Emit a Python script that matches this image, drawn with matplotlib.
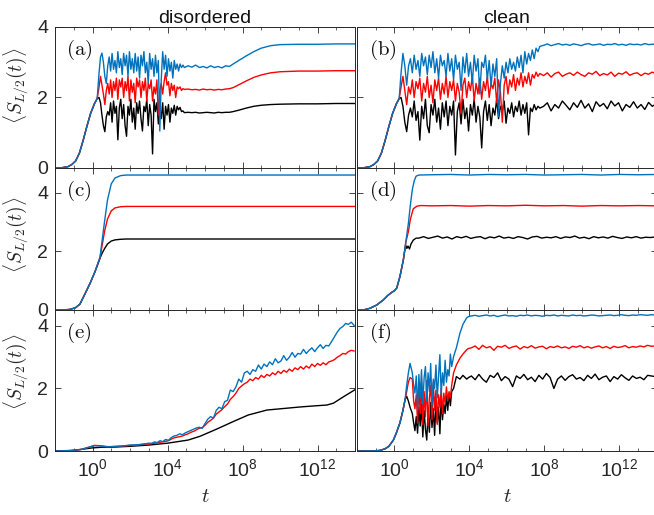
import numpy as np
import matplotlib
matplotlib.use("Agg")
import matplotlib.pyplot as plt
from matplotlib.ticker import FixedLocator, NullFormatter, FixedFormatter

plt.rcParams['font.family'] = ['Liberation Sans', 'DejaVu Sans']
plt.rcParams['mathtext.fontset'] = 'cm'

# ---------------- data: log10(t) and <S_{L/2}(t)> ----------------
col_titles = ["disordered", "clean"]
panel_tags = ["(a)", "(b)", "(c)", "(d)", "(e)", "(f)"]
xtick_exps = [0, 4, 8, 12]
ytick_vals = [0, 2, 4]

# top row shared early growth
top_rise_logt = [-2.0, -1.6, -1.3, -1.1, -0.9, -0.7, -0.5, -0.3, -0.1, 0.1, 0.25]
top_rise = [0.0, 0.01, 0.04, 0.1, 0.2, 0.42, 0.78, 1.18, 1.55, 1.82, 1.97]

# (a) disordered, top
a_noise_span = [0.35, 4.9]
a_black_noise = [2.0, 1.85, 1.5, 1.2, 1.03, 1.45, 1.6, 1.5, 1.85, 1.3, 1.9, 1.55, 1.75, 0.8, 1.7,
                 1.95, 1.4, 1.8, 1.2, 0.9, 1.75, 1.5, 1.95, 1.3, 1.7, 1.1, 1.85, 1.55, 1.9, 1.4,
                 1.05, 1.75, 1.6, 1.95, 1.2, 1.8, 1.5, 0.4, 1.95, 1.6, 1.85, 1.25, 1.7, 1.4, 1.85,
                 1.1, 1.75, 1.5, 1.8, 1.3, 1.7, 1.55, 1.78, 1.5, 1.75, 1.65, 1.72, 1.6, 1.62, 1.57]
a_red_noise = [2.3, 2.6, 2.35, 2.1, 1.8, 2.2, 2.4, 2.1, 2.5, 2.0, 2.45, 2.2, 2.55, 1.95, 2.5,
               2.3, 2.55, 2.0, 2.45, 2.2, 2.6, 1.9, 2.5, 2.15, 2.4, 1.85, 2.55, 2.3, 2.5, 2.0,
               2.45, 2.2, 2.55, 1.9, 2.4, 2.25, 2.5, 1.9, 2.3, 2.1, 2.5, 1.5, 2.2, 2.4, 2.1,
               2.45, 2.7, 2.35, 2.45, 2.05, 2.4, 2.2, 2.35, 2.0, 2.3, 2.25, 2.3, 2.2, 2.25, 2.23]
a_blue_noise = [2.7, 3.15, 3.26, 3.0, 2.6, 2.4, 2.9, 3.15, 2.75, 3.25, 2.8, 3.05, 2.7, 3.3, 2.85,
                3.1, 2.65, 3.25, 2.9, 3.2, 2.6, 3.3, 2.8, 3.1, 2.7, 3.25, 2.75, 3.15, 2.55, 3.2,
                2.9, 3.3, 2.7, 3.0, 2.4, 3.25, 2.8, 3.1, 2.6, 3.2, 2.7, 3.05, 1.05, 2.5, 3.3,
                2.8, 3.2, 2.6, 3.1, 2.75, 3.0, 2.55, 3.05, 2.8, 2.95, 2.75, 2.95, 2.85, 2.92, 2.85]
a_tail_logt = [5.1, 5.3, 5.5, 5.7, 5.9, 6.1, 6.3, 6.5, 6.7, 6.9, 7.1, 7.3, 7.5, 7.8, 8.2, 8.6,
               9.0, 9.5, 10.0, 11.0, 12.0, 13.0, 14.0]
a_black_tail = [1.58, 1.57, 1.58, 1.56, 1.57, 1.58, 1.57, 1.56, 1.58, 1.57, 1.58, 1.58, 1.6, 1.64,
                1.7, 1.75, 1.78, 1.8, 1.81, 1.82, 1.82, 1.83, 1.83]
a_red_tail = [2.24, 2.22, 2.23, 2.21, 2.24, 2.22, 2.23, 2.21, 2.23, 2.22, 2.24, 2.25, 2.28, 2.36,
              2.47, 2.57, 2.64, 2.7, 2.73, 2.75, 2.75, 2.76, 2.76]
a_blue_tail = [2.9, 2.86, 2.92, 2.85, 2.88, 2.84, 2.9, 2.85, 2.88, 2.84, 2.9, 2.88, 2.95, 3.05,
               3.18, 3.3, 3.4, 3.47, 3.5, 3.51, 3.51, 3.52, 3.52]

# (b) clean, top
b_noise_span = [0.35, 7.75]
b_black_noise = [2.0, 1.75, 1.3, 1.03, 1.5, 1.7, 1.45, 1.9, 1.35, 1.6, 0.79, 1.75, 1.4, 1.95, 1.2,
                 1.0, 1.8, 1.5, 1.95, 1.3, 1.7, 1.1, 1.85, 1.45, 1.9, 1.2, 1.75, 1.5, 1.9, 0.37,
                 1.6, 1.85, 1.25, 1.95, 1.4, 1.7, 1.05, 1.8, 1.5, 1.95, 1.3, 1.75, 1.45, 0.57, 1.6,
                 1.9, 1.35, 1.8, 1.2, 1.7, 1.5, 1.95, 1.4, 1.75, 1.6, 1.9, 1.27, 1.7, 1.55, 1.85,
                 1.45, 1.75, 1.6, 1.9, 1.5, 1.8, 1.55, 1.85, 0.94, 1.7, 1.6, 1.8, 1.65, 1.75, 1.7]
b_red_noise = [2.3, 2.6, 2.2, 1.8, 2.3, 2.1, 2.5, 2.0, 2.45, 2.25, 2.55, 1.9, 2.4, 2.15, 2.6,
               2.0, 2.35, 1.85, 2.5, 2.2, 2.55, 1.95, 2.4, 2.1, 2.6, 2.0, 2.45, 2.2, 2.5, 1.9,
               2.4, 2.15, 1.55, 2.35, 2.55, 2.0, 2.45, 2.2, 2.6, 1.9, 2.4, 2.1, 2.55, 1.95, 2.45,
               2.2, 2.6, 2.0, 2.4, 2.25, 2.55, 1.85, 2.5, 2.15, 1.3, 2.35, 2.6, 2.1, 2.5, 2.3,
               2.65, 2.2, 2.55, 2.35, 2.7, 2.3, 2.6, 2.4, 2.7, 2.35, 2.65, 2.55, 2.72, 2.6, 2.68]
b_blue_noise = [2.7, 3.25, 2.9, 2.35, 2.9, 3.1, 2.7, 3.2, 2.8, 3.05, 2.6, 3.25, 2.9, 3.15, 2.65,
                3.2, 2.85, 3.3, 2.7, 3.1, 2.55, 3.2, 2.9, 3.05, 2.6, 3.25, 2.75, 3.1, 2.5, 3.2,
                2.8, 3.0, 2.2, 3.15, 2.7, 3.25, 2.6, 3.0, 2.4, 3.2, 2.75, 3.1, 2.1, 3.0, 2.85,
                3.2, 2.5, 3.05, 2.3, 2.95, 2.6, 3.1, 1.46, 2.4, 2.9, 2.55, 3.0, 2.7, 3.1, 2.8,
                3.0, 2.75, 3.15, 2.85, 3.2, 2.7, 3.3, 2.95, 3.25, 3.05, 3.35, 3.1, 3.4, 3.3, 3.45]
b_tail_span = [7.95, 13.95]
b_black_tail = [1.75, 1.85, 1.62, 1.8, 1.7, 1.9, 1.78, 1.65, 1.85, 1.72, 1.92, 1.7, 1.82, 1.6,
                1.88, 1.75, 1.83, 1.68, 1.9, 1.76, 1.85, 1.62, 1.8, 1.72, 1.88, 1.7, 1.8, 1.66,
                1.86, 1.75, 1.82]
b_red_tail = [2.62, 2.7, 2.58, 2.68, 2.72, 2.6, 2.66, 2.7, 2.63, 2.72, 2.65, 2.6, 2.7, 2.66,
              2.74, 2.62, 2.68, 2.64, 2.72, 2.6, 2.69, 2.66, 2.73, 2.63, 2.68, 2.7, 2.62, 2.69,
              2.66, 2.72, 2.67]
b_blue_tail = [3.48, 3.52, 3.47, 3.5, 3.53, 3.49, 3.51, 3.48, 3.52, 3.5, 3.47, 3.51, 3.53, 3.49,
               3.5, 3.52, 3.48, 3.51, 3.5, 3.53, 3.49, 3.51, 3.48, 3.52, 3.5, 3.51, 3.49, 3.53,
               3.5, 3.51, 3.52]

# (c) disordered, middle
c_logt = [-2.0, -1.5, -1.2, -0.9, -0.67, -0.4, -0.13, 0.13, 0.4, 0.5, 0.65, 0.8, 1.0, 1.2, 1.5,
          1.8, 2.5, 14.0]
c_black = [0, 0.005, 0.02, 0.08, 0.2, 0.55, 0.91, 1.3, 1.76, 1.92, 2.1, 2.25, 2.35, 2.39, 2.41,
           2.42, 2.42, 2.42]
c_red = [0, 0.005, 0.02, 0.08, 0.2, 0.55, 0.91, 1.3, 1.78, 2.15, 2.7, 3.1, 3.38, 3.48, 3.52,
         3.53, 3.53, 3.53]
c_blue = [0, 0.005, 0.02, 0.08, 0.2, 0.55, 0.91, 1.3, 1.8, 2.3, 3.05, 3.75, 4.3, 4.5, 4.58,
          4.6, 4.6, 4.6]

# (d) clean, middle
d_rise_logt = [-2.0, -1.6, -1.3, -0.95, -0.6, -0.35, -0.15, 0.0, 0.12, 0.29, 0.47, 0.55]
d_rise = [0.0, 0.01, 0.06, 0.17, 0.34, 0.5, 0.6, 0.66, 0.75, 1.14, 1.7, 2.05]
d_black_logt = [0.6, 0.66, 0.72, 0.8, 0.88, 1.0, 1.15]
d_black_mid = [2.2, 2.1, 2.18, 2.08, 2.25, 2.38, 2.45]
d_black_plateau_span = [1.3, 13.9]
d_black_plateau = [2.45, 2.5, 2.44, 2.48, 2.52, 2.45, 2.49, 2.42, 2.5, 2.46, 2.51, 2.44, 2.48,
                   2.5, 2.43, 2.49, 2.46, 2.52, 2.45, 2.48, 2.44, 2.5, 2.47, 2.42, 2.49, 2.51,
                   2.45, 2.48, 2.46, 2.5, 2.44, 2.49, 2.47, 2.52, 2.45, 2.48, 2.43, 2.5, 2.46,
                   2.49, 2.45, 2.51, 2.47, 2.44, 2.49, 2.46, 2.5, 2.45, 2.48, 2.47, 2.49]
d_red_logt = [0.6, 0.74, 0.85, 1.0, 1.2, 1.4, 2, 3, 4, 5, 6, 7, 8, 9, 10, 11, 12, 13, 14]
d_red = [2.3, 2.67, 3.1, 3.45, 3.54, 3.56, 3.55, 3.56, 3.54, 3.56, 3.55, 3.57, 3.55, 3.56, 3.54,
         3.56, 3.55, 3.56, 3.55]
d_blue_logt = [0.6, 0.74, 0.85, 0.95, 1.05, 1.15, 1.3, 2, 3, 4, 5, 6, 7, 8, 9, 10, 11, 12, 13, 14]
d_blue = [2.3, 2.95, 3.6, 4.1, 4.4, 4.56, 4.6, 4.61, 4.62, 4.6, 4.62, 4.61, 4.62, 4.6, 4.61, 4.62,
          4.6, 4.62, 4.61, 4.62]

# (e) disordered, bottom
e_early_logt = [-2.0, -1.2, -0.6, -0.2, 0.1, 0.4, 0.8, 1.2, 1.6, 2.0, 2.4, 2.8]
e_blue_early = [0, 0.01, 0.05, 0.12, 0.17, 0.16, 0.13, 0.15, 0.16, 0.19, 0.2, 0.23]
e_red_early = [0, 0.01, 0.05, 0.12, 0.18, 0.17, 0.14, 0.14, 0.16, 0.18, 0.19, 0.22]
e_noise_span = [3.0, 13.95]
e_blue_noise = [0.25, 0.24, 0.29, 0.27, 0.33, 0.3, 0.37, 0.34, 0.43, 0.48,
                0.5, 0.55, 0.52, 0.58, 0.62, 0.66, 0.7, 0.74, 0.76, 0.72,
                0.88, 1.02, 1.1, 1.05, 1.3, 1.4, 1.35, 1.58, 1.62, 1.95,
                1.9, 2.05, 2.3, 2.2, 2.5, 2.55, 2.45, 2.6, 2.55, 2.75,
                2.62, 2.78, 2.7, 2.85, 2.76, 2.95, 2.82, 2.88, 3.05, 2.9,
                3.0, 3.15, 3.0, 3.12, 3.1, 3.25, 3.12, 3.22, 3.3, 3.18,
                3.3, 3.4, 3.28, 3.38, 3.36, 3.5, 3.65, 3.8, 3.92, 3.98,
                4.08, 4.05, 4.12, 4.02]
e_red_noise = [0.23, 0.24, 0.25, 0.26, 0.28, 0.29, 0.31, 0.33, 0.38, 0.42,
               0.44, 0.46, 0.48, 0.52, 0.55, 0.6, 0.63, 0.68, 0.73, 0.75,
               0.82, 0.92, 0.98, 1.05, 1.18, 1.25, 1.32, 1.42, 1.5, 1.65,
               1.74, 1.85, 2.0, 2.08, 2.15, 2.2, 2.3, 2.25, 2.35, 2.3,
               2.42, 2.35, 2.45, 2.4, 2.5, 2.44, 2.55, 2.48, 2.58, 2.52,
               2.62, 2.55, 2.66, 2.6, 2.7, 2.62, 2.72, 2.65, 2.78, 2.7,
               2.8, 2.74, 2.82, 2.76, 2.85, 2.88, 2.92, 3.0, 3.05, 3.12,
               3.1, 3.18, 3.22, 3.2]
e_black_logt = [-2.0, -1.0, -0.5, 0.0, 0.5, 1.0, 2.0, 3.0, 4.0, 5.1, 5.73, 6.62, 7.5, 8.3, 9.3,
                10.2, 11.1, 12.0, 12.5, 12.85, 13.4, 14.0]
e_black = [0, 0.02, 0.06, 0.1, 0.12, 0.12, 0.15, 0.19, 0.25, 0.35, 0.47, 0.7, 0.94, 1.15, 1.31,
           1.36, 1.41, 1.45, 1.47, 1.53, 1.74, 1.96]

# (f) clean, bottom
f_rise_logt = [-2.0, -1.5, -1.0, -0.77, -0.5, -0.3, -0.06, 0.1, 0.29, 0.45, 0.56]
f_rise = [0.0, 0.0, 0.005, 0.02, 0.07, 0.15, 0.35, 0.58, 0.9, 1.3, 1.63]
f_peak_logt = [0.65, 0.74, 0.83]
f_black_peak = [1.75, 1.6, 1.4]
f_red_peak = [1.9, 2.2, 2.35]
f_blue_peak = [2.1, 2.5, 2.8]
f_noise_span = [0.95, 3.05]
f_black_noise = [1.2, 0.9, 0.65, 1.1, 0.57, 1.4, 0.8, 1.5, 0.45, 1.3, 0.7, 0.35, 1.2, 0.6, 1.55,
                 0.75, 1.35, 0.5, 1.6, 0.9, 1.4, 0.55, 1.7, 1.0, 1.5, 1.2, 1.75, 1.3, 1.85, 1.45,
                 1.9]
f_red_noise = [2.3, 1.6, 1.35, 1.8, 0.9, 2.1, 1.2, 2.2, 0.85, 1.9, 1.1, 2.25, 0.8, 1.7, 2.1,
               1.0, 2.2, 1.3, 1.95, 0.85, 1.8, 1.4, 2.0, 1.2, 1.85, 1.5, 2.05, 1.6, 1.9, 1.7,
               2.1]
f_blue_noise = [2.5, 2.1, 1.85, 2.4, 1.31, 2.45, 1.7, 2.6, 1.5, 2.35, 2.7, 1.6, 2.5, 1.9, 2.8,
                1.45, 2.3, 2.0, 2.75, 1.7, 2.4, 3.08, 1.8, 2.5, 2.1, 2.9, 2.2, 2.6, 2.4, 3.1,
                2.7]
f_settle_logt = [3.15, 3.3, 3.49, 3.65, 3.85, 3.95]
f_black_settle = [2.0, 2.38, 2.3, 2.42, 2.3, 2.35]
f_red_settle = [2.5, 2.75, 2.97, 3.1, 3.24, 3.28]
f_blue_settle = [3.02, 3.3, 3.77, 4.05, 4.26, 4.3]
f_plateau_span = [4.1, 13.9]
f_black_plateau = [2.4, 2.28, 2.45, 2.3, 2.2, 2.42, 2.35, 2.5, 2.25, 2.38, 2.3, 2.06, 2.4, 2.32,
                   2.45, 2.28, 2.36, 2.22, 2.42, 2.3, 2.48, 2.35, 2.0, 2.3, 2.4, 2.26, 2.38, 2.44,
                   2.3, 2.35, 2.25, 2.42, 2.32, 2.46, 2.28, 2.36, 2.4, 2.22, 2.38, 2.3, 2.44, 2.34,
                   2.26, 2.4, 2.32, 2.36, 2.28, 2.42, 2.4, 2.38]
f_red_plateau = [3.3, 3.36, 3.25, 3.38, 3.3, 3.34, 3.22, 3.35, 3.32, 3.38, 3.28, 3.33, 3.36, 3.26,
                 3.34, 3.3, 3.37, 3.29, 3.33, 3.35, 3.27, 3.34, 3.31, 3.36, 3.3, 3.33, 3.28, 3.35,
                 3.32, 3.37, 3.3, 3.34, 3.29, 3.33, 3.36, 3.3, 3.34, 3.28, 3.35, 3.31, 3.33, 3.37,
                 3.3, 3.34, 3.32, 3.36, 3.33, 3.38, 3.35, 3.36]
f_blue_plateau = [4.32, 4.34, 4.31, 4.33, 4.35, 4.32, 4.34, 4.3, 4.33, 4.35, 4.32, 4.33, 4.31,
                  4.34, 4.33, 4.35, 4.32, 4.34, 4.33, 4.31, 4.34, 4.33, 4.35, 4.32, 4.34, 4.33,
                  4.32, 4.35, 4.33, 4.34, 4.32, 4.33, 4.35, 4.34, 4.32, 4.33, 4.34, 4.35, 4.33,
                  4.34, 4.36, 4.34, 4.33, 4.35, 4.34, 4.36, 4.35, 4.34, 4.36, 4.35]

BLUE, RED, BLACK = '#0072BD', '#FF0000', '#000000'


def span(sp, vals):
    return list(np.linspace(sp[0], sp[1], len(vals)))


def curve(parts):
    t = np.concatenate([np.asarray(p[0], float) for p in parts])
    v = np.concatenate([np.asarray(p[1], float) for p in parts])
    return 10.0 ** t, v


panels = [
    [curve([(top_rise_logt, top_rise), (span(a_noise_span, a_black_noise), a_black_noise), (a_tail_logt, a_black_tail)]),
     curve([(top_rise_logt, top_rise), (span(a_noise_span, a_red_noise), a_red_noise), (a_tail_logt, a_red_tail)]),
     curve([(top_rise_logt, top_rise), (span(a_noise_span, a_blue_noise), a_blue_noise), (a_tail_logt, a_blue_tail)])],
    [curve([(top_rise_logt, top_rise), (span(b_noise_span, b_black_noise), b_black_noise), (span(b_tail_span, b_black_tail), b_black_tail)]),
     curve([(top_rise_logt, top_rise), (span(b_noise_span, b_red_noise), b_red_noise), (span(b_tail_span, b_red_tail), b_red_tail)]),
     curve([(top_rise_logt, top_rise), (span(b_noise_span, b_blue_noise), b_blue_noise), (span(b_tail_span, b_blue_tail), b_blue_tail)])],
    [curve([(c_logt, c_black)]), curve([(c_logt, c_red)]), curve([(c_logt, c_blue)])],
    [curve([(d_rise_logt, d_rise), (d_black_logt, d_black_mid), (span(d_black_plateau_span, d_black_plateau), d_black_plateau)]),
     curve([(d_rise_logt, d_rise), (d_red_logt, d_red)]),
     curve([(d_rise_logt, d_rise), (d_blue_logt, d_blue)])],
    [curve([(e_black_logt, e_black)]),
     curve([(e_early_logt, e_red_early), (span(e_noise_span, e_red_noise), e_red_noise)]),
     curve([(e_early_logt, e_blue_early), (span(e_noise_span, e_blue_noise), e_blue_noise)])],
    [curve([(f_rise_logt, f_rise), (f_peak_logt, f_black_peak), (span(f_noise_span, f_black_noise), f_black_noise),
            (f_settle_logt, f_black_settle), (span(f_plateau_span, f_black_plateau), f_black_plateau)]),
     curve([(f_rise_logt, f_rise), (f_peak_logt, f_red_peak), (span(f_noise_span, f_red_noise), f_red_noise),
            (f_settle_logt, f_red_settle), (span(f_plateau_span, f_red_plateau), f_red_plateau)]),
     curve([(f_rise_logt, f_rise), (f_peak_logt, f_blue_peak), (span(f_noise_span, f_blue_noise), f_blue_noise),
            (f_settle_logt, f_blue_settle), (span(f_plateau_span, f_blue_plateau), f_blue_plateau)])],
]

# ---------------- figure ----------------
W, H = 654, 515
fig = plt.figure(figsize=(W / 100, H / 100), dpi=100)
cols = [(55, 355), (357, 657)]
rows = [(27, 168), (168, 310), (310, 451)]
ytops = [4.0, 4.84, 4.51]
ylab_y = [0.585, 0.528, 0.56]
AXC = '#262626'

for r in range(3):
    for c in range(2):
        x0, x1 = cols[c]
        y0, y1 = rows[r]
        ax = fig.add_axes([x0 / W, 1 - y1 / H, (x1 - x0) / W, (y1 - y0) / H])
        idx = r * 2 + c
        for (t, v), col in zip(panels[idx], [BLACK, RED, BLUE]):
            ax.plot(t, v, color=col, lw=1.0)
        ax.set_xscale('log')
        ax.set_xlim(1e-2, 1e14)
        ax.set_ylim(0, ytops[r])
        ax.xaxis.set_major_locator(FixedLocator([10.0 ** k for k in xtick_exps]))
        ax.xaxis.set_minor_locator(FixedLocator([10.0 ** k for k in range(-2, 15) if k % 4]))
        ax.xaxis.set_minor_formatter(NullFormatter())
        ax.yaxis.set_major_locator(FixedLocator(ytick_vals))
        if r == 2:
            ax.xaxis.set_major_formatter(FixedFormatter([r'$\mathregular{10^{%d}}$' % k for k in xtick_exps]))
        else:
            ax.xaxis.set_major_formatter(NullFormatter())
        if c == 1:
            ax.yaxis.set_major_formatter(NullFormatter())
        else:
            ax.set_ylabel(r'$\langle S_{L/2}(t)\rangle$', fontsize=14, color=AXC)
            ax.yaxis.set_label_coords(-0.08, ylab_y[r])
        ax.tick_params(which='both', direction='in', top=True, right=True, colors=AXC,
                       labelsize=14, pad=5)
        ax.tick_params(which='major', length=4, width=0.6)
        ax.tick_params(which='minor', length=2.5, width=0.5)
        for s in ax.spines.values():
            s.set_color(AXC)
            s.set_linewidth(0.7)
        ax.text(0.035 if c == 0 else 0.04, 0.84, r'$\mathrm{%s}$' % panel_tags[idx],
                transform=ax.transAxes, fontsize=15, ha='left', va='center', color='#111111')
        if r == 0:
            ax.set_title(col_titles[c], fontsize=14, color='#111111', pad=3)
        if r == 2:
            ax.set_xlabel(r'$t$', fontsize=15, color=AXC, labelpad=5)

fig.savefig('out.png', dpi=100)
